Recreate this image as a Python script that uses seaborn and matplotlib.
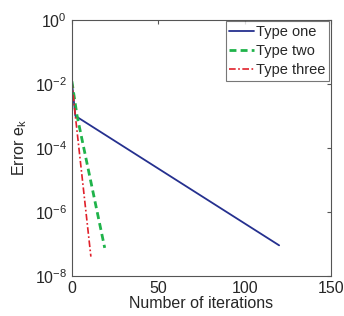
import matplotlib
matplotlib.use('Agg')
import matplotlib.pyplot as plt
import matplotlib.ticker as mticker
import numpy as np
import pandas as pd
import seaborn as sns

# data
iters_one=[0,2,120]
err_one=[1.2e-2,1.0e-3,9e-8]
iters_two=[0,3,19]
err_two=[1.2e-2,1.0e-3,7.5e-8]
iters_three=[0,2,11]
err_three=[1.2e-2,1.0e-3,4e-8]
names=['Type one','Type two','Type three']

df=pd.concat([
    pd.DataFrame({'it':iters_one,'err':err_one,'type':names[0]}),
    pd.DataFrame({'it':iters_two,'err':err_two,'type':names[1]}),
    pd.DataFrame({'it':iters_three,'err':err_three,'type':names[2]}),
])

sns.set_style('white')
plt.rcParams['font.family']=['Liberation Sans','DejaVu Sans']

fig=plt.figure(figsize=(3.44,3.16),dpi=100)
ax=fig.add_axes([0.209,0.127,0.753,0.81])

pal={'Type one':'#25308f','Type two':'#1fb34a','Type three':'#e0202a'}
styles={'Type one':'','Type two':(2.5,1.5),'Type three':(4,1.5,1,1.5)}
widths={'Type one':1.3,'Type two':2.0,'Type three':1.2}
for n in names:
    sns.lineplot(data=df[df['type']==n],x='it',y='err',color=pal[n],ax=ax,
                 label=n,linewidth=widths[n])
for line,n in zip(ax.get_lines(),names):
    if styles[n]:
        line.set_dashes(styles[n])

ax.set_yscale('log')
ax.set_xlim(0,150)
ax.set_ylim(1e-8,1)
ax.set_xticks([0,50,100,150])
ax.set_yticks([1e-8,1e-6,1e-4,1e-2,1])
ax.yaxis.set_minor_locator(mticker.NullLocator())
ax.tick_params(direction='in',top=True,right=True,labelsize=11.5,length=3,color='#555555')
for s in ax.spines.values():
    s.set_color('#555555')
    s.set_linewidth(0.8)
ax.set_xlabel('Number of iterations',fontsize=11.5,labelpad=0)
ax.set_ylabel('Error e$_\\mathregular{k}$',fontsize=11.5,labelpad=4)

leg=ax.legend(loc='upper right',fontsize=10.5,frameon=True,fancybox=False,
              borderpad=0.25,labelspacing=0.35,handlelength=1.7,handletextpad=0.15,
              borderaxespad=0.1)
leg.get_frame().set_edgecolor('#555555')
leg.get_frame().set_linewidth(0.8)

fig.savefig('out.png',dpi=100)
